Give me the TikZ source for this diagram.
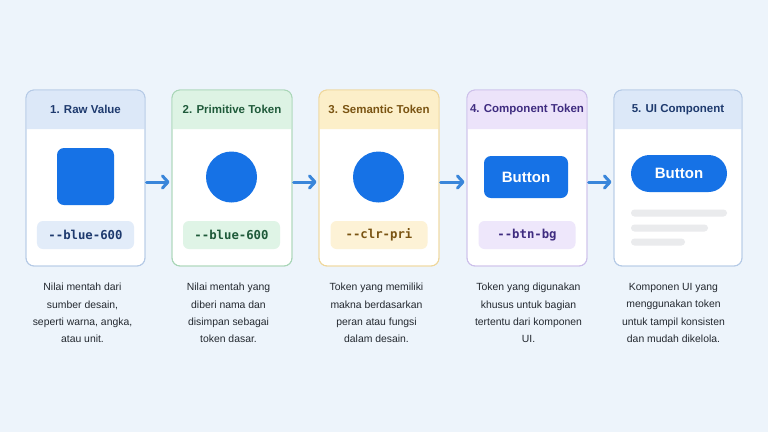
\documentclass[tikz,border=0pt]{standalone}
\usepackage{fontspec}
\setmainfont{Liberation Sans}
\newfontfamily\codefont{DejaVu Sans Mono}
\usetikzlibrary{arrows.meta}
\definecolor{bgc}{HTML}{EDF4FB}
\definecolor{bHead}{HTML}{DCE8F8}\definecolor{bBord}{HTML}{B5CAE6}\definecolor{bText}{HTML}{1E3A6E}\definecolor{bPill}{HTML}{E2ECF9}
\definecolor{gHead}{HTML}{DDF3E4}\definecolor{gBord}{HTML}{A9D6B7}\definecolor{gText}{HTML}{1F5A3A}\definecolor{gPill}{HTML}{DFF4E6}
\definecolor{yHead}{HTML}{FCEFC9}\definecolor{yBord}{HTML}{EFD79B}\definecolor{yText}{HTML}{7A5412}\definecolor{yPill}{HTML}{FDF2D6}
\definecolor{pHead}{HTML}{ECE3FA}\definecolor{pBord}{HTML}{CDC0EA}\definecolor{pText}{HTML}{3F2C80}\definecolor{pPill}{HTML}{EEE7FB}
\definecolor{mainblue}{HTML}{1672E6}
\definecolor{arrc}{HTML}{3A86DA}
\definecolor{descc}{HTML}{23282F}
\definecolor{barc}{HTML}{EAEBED}
\tikzset{
  cardbox/.style={draw=#1, line width=0.9bp, fill=white, rounded corners=8bp, inner sep=0pt, outer sep=0pt},
  titletext/.style={text=#1, font=\bfseries\fontsize{11.5bp}{13bp}\selectfont, inner sep=0pt},
  pill/.style={fill=#1, rounded corners=6bp, minimum width=97bp, minimum height=28bp, inner sep=0pt},
  codetext/.style={text=#1, font=\codefont\bfseries\fontsize{12.3bp}{14bp}\selectfont, inner sep=0pt},
  desc/.style={text=descc, align=center, font=\fontsize{10.4bp}{17.3bp}\selectfont, inner sep=0pt},
  flow/.style={draw=arrc, line width=3bp, line cap=round, -{Straight Barb[length=5.5bp, width=12bp, line cap=round, line join=round]}},
  btntext/.style={text=white, font=\bfseries\fontsize{15bp}{17bp}\selectfont, inner sep=0pt},
  bar/.style={fill=barc, rounded corners=3.5bp}
}
\begin{document}
\begin{tikzpicture}[x=1bp, y=-1bp]
\fill[bgc] (0,0) rectangle (768,432);
\useasboundingbox (0,0) rectangle (768,432);

% cards
\node[cardbox=bBord, minimum width=119bp, minimum height=176bp] (c1) at (85.5,178) {};
\node[cardbox=gBord, minimum width=120bp, minimum height=176bp] (c2) at (232,178) {};
\node[cardbox=yBord, minimum width=120bp, minimum height=176bp] (c3) at (379,178) {};
\node[cardbox=pBord, minimum width=120bp, minimum height=176bp] (c4) at (527,178) {};
\node[cardbox=bBord, minimum width=128bp, minimum height=176bp] (c5) at (678,178) {};

% headers
\foreach \c/\h/\b in {c1/bHead/bBord, c2/gHead/gBord, c3/yHead/yBord, c4/pHead/pBord, c5/bHead/bBord}{
  \fill[\h] ([yshift=-39bp]\c.north west) [rounded corners=8bp] -- (\c.north west) -- (\c.north east) [sharp corners] -- ([yshift=-39bp]\c.north east) -- cycle;
  \draw[\b, line width=0.9bp, rounded corners=8bp] (\c.north west) rectangle (\c.south east);
}

% titles
\node[titletext=bText] (t1) at (85.5,109.5) {1. Raw Value};
\node[titletext=gText] (t2) at (232,109.5) {2. Primitive Token};
\node[titletext=yText] (t3) at (379,109.5) {3. Semantic Token};
\node[titletext=pText] (t4) at (527,109.5) {4. Component Token};
\node[titletext=bText] (t5) at (678,109.5) {5. UI Component};

% visuals
\node[fill=mainblue, rounded corners=7bp, minimum width=57bp, minimum height=57bp, inner sep=0pt] (sq) at (85.5,176.5) {};
\node[fill=mainblue, circle, minimum size=51bp, inner sep=0pt] (ci2) at (231.5,177) {};
\node[fill=mainblue, circle, minimum size=51bp, inner sep=0pt] (ci3) at (378.5,177) {};
\node[fill=mainblue, rounded corners=7bp, minimum width=84bp, minimum height=42bp, inner sep=0pt] (b4) at (526,177) {};
\node[btntext] (b4t) at (b4) {Button};
\node[fill=mainblue, rounded corners=18.5bp, minimum width=96bp, minimum height=37bp, inner sep=0pt] (b5) at (679,173.5) {};
\node[btntext] (b5t) at (b5) {Button};
\fill[barc, rounded corners=3.5bp] (631,209.5) rectangle (727,216.5);
\fill[barc, rounded corners=3.5bp] (631,224.5) rectangle (708,231.5);
\fill[barc, rounded corners=3.5bp] (631,238.5) rectangle (685,245.5);

% pills
\node[pill=bPill] (p1) at (85.5,235) {};
\node[codetext=bText] at (p1) {--blue-600};
\node[pill=gPill] (p2) at (231.5,235) {};
\node[codetext=gText] at (p2) {--blue-600};
\node[pill=yPill] (p3) at (379,235) {};
\node[codetext=yText] at (p3) {--clr-pri};
\node[pill=pPill] (p4) at (527,235) {};
\node[codetext=pText] at (p4) {--btn-bg};

% arrows
\draw[flow] ([xshift=1.5bp, yshift=-4bp]c1.east) -- ([xshift=-2.5bp, yshift=-4bp]c2.west);
\draw[flow] ([xshift=1.5bp, yshift=-4bp]c2.east) -- ([xshift=-2.5bp, yshift=-4bp]c3.west);
\draw[flow] ([xshift=1.5bp, yshift=-4bp]c3.east) -- ([xshift=-2.5bp, yshift=-4bp]c4.west);
\draw[flow] ([xshift=1.5bp, yshift=-4bp]c4.east) -- ([xshift=-2.5bp, yshift=-4bp]c5.west);

% descriptions
\node[desc] (d1) at (82.5,313) {Nilai mentah dari\\sumber desain,\\seperti warna, angka,\\atau unit.};
\node[desc] (d2) at (228.5,313) {Nilai mentah yang\\diberi nama dan\\disimpan sebagai\\token dasar.};
\node[desc] (d3) at (376.5,313) {Token yang memiliki\\makna berdasarkan\\peran atau fungsi\\dalam desain.};
\node[desc] (d4) at (528.5,313) {Token yang digunakan\\khusus untuk bagian\\tertentu dari komponen\\UI.};
\node[desc] (d5) at (673.5,313) {Komponen UI yang\\menggunakan token\\untuk tampil konsisten\\dan mudah dikelola.};
\end{tikzpicture}
\end{document}
